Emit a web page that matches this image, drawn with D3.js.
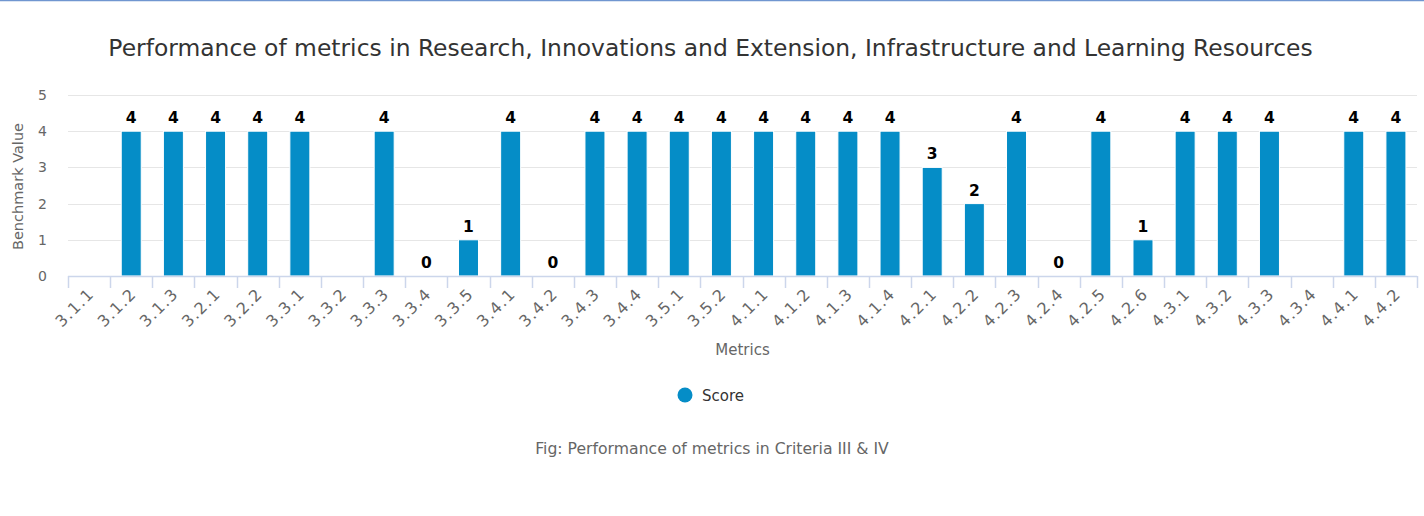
<!DOCTYPE html>
<html>
<head>
<meta charset="utf-8">
<script src="https://cdn.jsdelivr.net/npm/d3@7/dist/d3.min.js"></script>
<style>
  html, body { margin: 0; padding: 0; background: #fff; }
  svg { display: block; font-family: "DejaVu Sans", sans-serif; }
</style>
</head>
<body>
<svg id="chart" width="1424" height="516"></svg>
<script>
const categories = ["3.1.1","3.1.2","3.1.3","3.2.1","3.2.2","3.3.1","3.3.2","3.3.3","3.3.4","3.3.5",
  "3.4.1","3.4.2","3.4.3","3.4.4","3.5.1","3.5.2","4.1.1","4.1.2","4.1.3","4.1.4",
  "4.2.1","4.2.2","4.2.3","4.2.4","4.2.5","4.2.6","4.3.1","4.3.2","4.3.3","4.3.4","4.4.1","4.4.2"];
const scores = [null,4,4,4,4,4,null,4,0,1,
  4,0,4,4,4,4,4,4,4,4,
  3,2,4,0,4,1,4,4,4,null,4,4];
const yTicks = [0,1,2,3,4,5];
const titleText = "Performance of metrics in Research, Innovations and Extension, Infrastructure and Learning Resources";
const captionText = "Fig: Performance of metrics in Criteria III & IV";
const seriesName = "Score";
const xTitle = "Metrics";
const yTitle = "Benchmark Value";

(function () {
const svg = d3.select("#chart");
const W = 1424;
const pLeft = 68, pRight = 1417, pTop = 95, pBottom = 276;
const barColor = "#058DC7";

svg.append("line").attr("x1", 0).attr("x2", W).attr("y1", 0.5).attr("y2", 0.5)
  .attr("stroke", "#7096d0").attr("stroke-width", 1.5);

function fitText(sel, target) {
  const fs = parseFloat(sel.attr("font-size"));
  const w = sel.node().getComputedTextLength();
  if (w > 0) sel.attr("font-size", (fs * target / w).toFixed(2));
}

const x = d3.scaleBand().domain(categories).range([pLeft, pRight]).padding(0);
const y = d3.scaleLinear().domain([0, 5]).range([pBottom, pTop]);

// gridlines
svg.append("g").selectAll("line").data(yTicks.filter(d => d > 0)).join("line")
  .attr("x1", pLeft).attr("x2", pRight)
  .attr("y1", d => Math.round(y(d)) + 0.5).attr("y2", d => Math.round(y(d)) + 0.5)
  .attr("stroke", "#e6e6e6").attr("stroke-width", 1);

// y axis labels
const yAxis = d3.axisLeft(y).tickValues(yTicks).tickSize(0).tickPadding(0).tickFormat(d3.format("d"));
const yg = svg.append("g").attr("transform", `translate(${pLeft - 21},0)`).call(yAxis);
yg.select(".domain").remove();
yg.selectAll("text").attr("fill", "#666").attr("font-size", 14)
  .attr("font-family", "'DejaVu Sans', sans-serif").attr("text-anchor", "end");

// bars
const bw = 20;
const valid = categories.map((c, i) => ({c, v: scores[i]})).filter(d => d.v !== null);
svg.append("g").selectAll("rect").data(valid.filter(d => d.v > 0)).join("rect")
  .attr("x", d => x(d.c) + x.bandwidth() / 2 - bw / 2)
  .attr("width", bw)
  .attr("y", d => y(d.v))
  .attr("height", d => y(0) - y(d.v))
  .attr("fill", barColor)
  .attr("stroke", "#fff").attr("stroke-width", 1);

// x axis line + ticks
svg.append("line").attr("x1", pLeft).attr("x2", pRight).attr("y1", pBottom + 0.5).attr("y2", pBottom + 0.5)
  .attr("stroke", "#ccd6eb").attr("stroke-width", 1.5);
const tickPos = categories.map(c => x(c)).concat([pRight]);
svg.append("g").selectAll("line").data(tickPos).join("line")
  .attr("x1", d => Math.round(d) + 0.5).attr("x2", d => Math.round(d) + 0.5)
  .attr("y1", pBottom).attr("y2", pBottom + 12)
  .attr("stroke", "#ccd6eb").attr("stroke-width", 1.5);

// x labels rotated
svg.append("g").selectAll("text").data(categories).join("text")
  .attr("transform", c => `translate(${x(c) + x.bandwidth() / 2 + 2},${pBottom + 15}) rotate(-45)`)
  .attr("text-anchor", "end")
  .attr("fill", "#666").attr("font-size", 16)
  .attr("letter-spacing", 1.2)
  .attr("dy", "0.35em")
  .text(c => c);

// data labels
svg.append("g").selectAll("text").data(valid).join("text")
  .attr("x", d => x(d.c) + x.bandwidth() / 2)
  .attr("y", d => y(d.v) - 8)
  .attr("text-anchor", "middle")
  .attr("font-weight", "bold").attr("font-size", 15.5)
  .attr("fill", "#000")
  .attr("stroke", "#fff").attr("stroke-width", 2).attr("paint-order", "stroke")
  .text(d => d.v);

// title
const t = svg.append("text").attr("x", 710.5).attr("y", 56).attr("text-anchor", "middle")
  .attr("fill", "#333").attr("font-size", 20).text(titleText);
fitText(t, 1205);

// axis titles
svg.append("text").attr("transform", `translate(23,${(pTop + pBottom) / 2 + 1}) rotate(-90)`)
  .attr("text-anchor", "middle").attr("fill", "#666").attr("font-size", 14.5).text(yTitle);
svg.append("text").attr("x", (pLeft + pRight) / 2).attr("y", 355).attr("text-anchor", "middle")
  .attr("fill", "#666").attr("font-size", 15).text(xTitle);

// legend
svg.append("circle").attr("cx", 685).attr("cy", 395).attr("r", 7.5).attr("fill", barColor);
svg.append("text").attr("x", 702).attr("y", 400.5).attr("fill", "#333").attr("font-size", 15).text(seriesName);

// caption
const cap = svg.append("text").attr("x", 712).attr("y", 454).attr("text-anchor", "middle")
  .attr("fill", "#666").attr("font-size", 14.5).text(captionText);
fitText(cap, 354);
})();
</script>
</body>
</html>
